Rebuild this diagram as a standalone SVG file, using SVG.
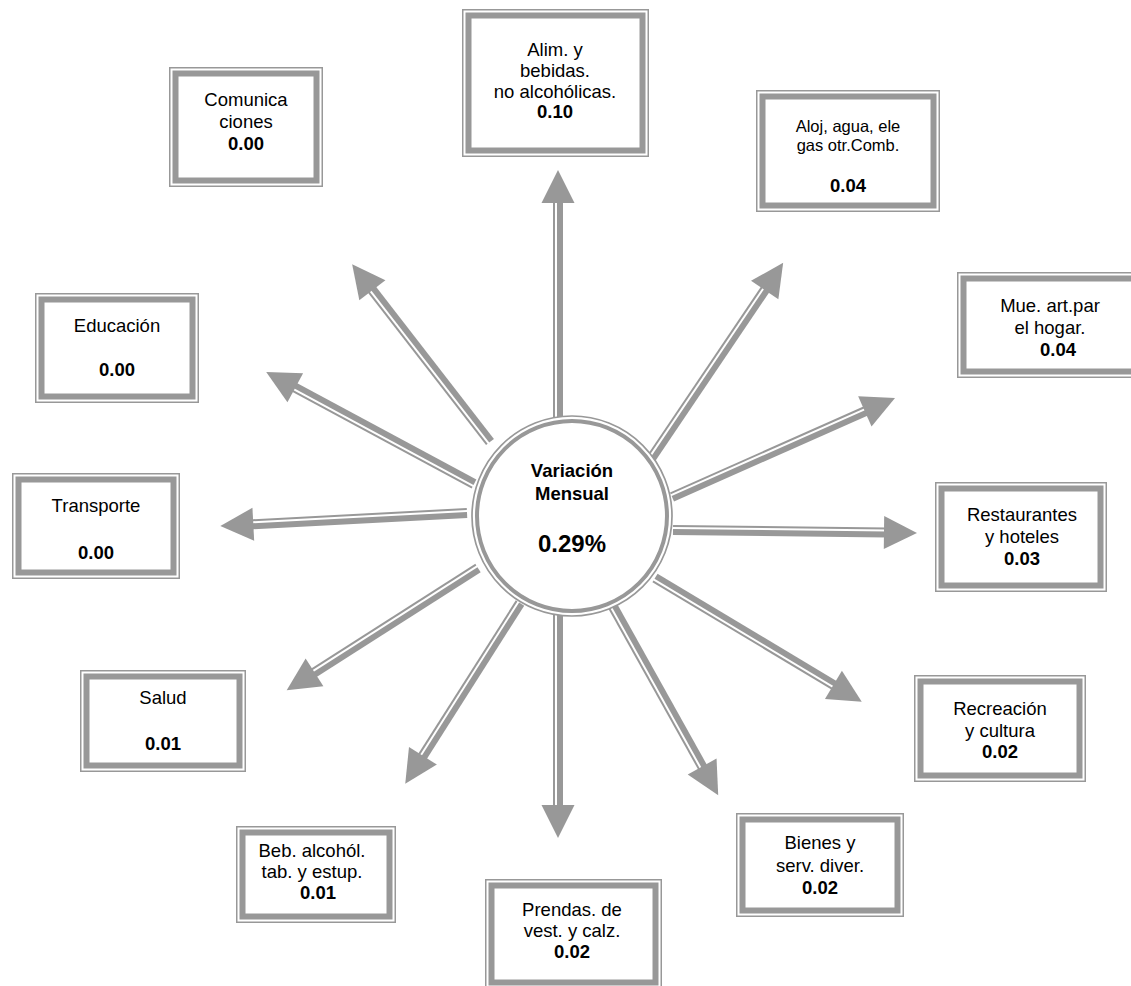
<svg xmlns="http://www.w3.org/2000/svg" width="1131" height="986" viewBox="0 0 1131 986">
<style>
.thin{stroke:#989898;stroke-width:2;fill:none}
.thick{stroke:#989898;stroke-width:6;fill:none}
.head{fill:#989898}
.bo{fill:none;stroke:#989898;stroke-width:1.5}
.bi{fill:#fff;stroke:#989898;stroke-width:6}
text{font-family:"Liberation Sans",Arial,sans-serif;font-size:18.5px;fill:#000;text-anchor:middle}
.b{font-weight:bold}
.s{font-size:16.5px}
</style>
<rect width="1131" height="986" fill="#fff"/>
<g id="connectors">
<g transform="translate(558,418) rotate(-90)"><line class="thin" x1="0" y1="-4" x2="218" y2="-4"/><line class="thick" x1="0" y1="2" x2="218" y2="2"/><polygon class="head" points="248,0 215,-16.5 215,16.5"/></g>
<g transform="translate(490,442) rotate(-127.78)"><line class="thin" x1="0" y1="-4" x2="195" y2="-4"/><line class="thick" x1="0" y1="2" x2="195" y2="2"/><polygon class="head" points="225,0 192,-16.5 192,16.5"/></g>
<g transform="translate(474,484) rotate(-151.7)"><line class="thin" x1="0" y1="-4" x2="206" y2="-4"/><line class="thick" x1="0" y1="2" x2="206" y2="2"/><polygon class="head" points="236,0 203,-16.5 203,16.5"/></g>
<g transform="translate(467,513) rotate(176.99) scale(1,-1)"><line class="thin" x1="0" y1="-4" x2="217" y2="-4"/><line class="thick" x1="0" y1="2" x2="217" y2="2"/><polygon class="head" points="247,0 214,-16.5 214,16.5"/></g>
<g transform="translate(478,568) rotate(147.43) scale(1,-1)"><line class="thin" x1="0" y1="-4" x2="197" y2="-4"/><line class="thick" x1="0" y1="2" x2="197" y2="2"/><polygon class="head" points="227,0 194,-16.5 194,16.5"/></g>
<g transform="translate(520,603) rotate(122.43) scale(1,-1)"><line class="thin" x1="0" y1="-4" x2="184" y2="-4"/><line class="thick" x1="0" y1="2" x2="184" y2="2"/><polygon class="head" points="214,0 181,-16.5 181,16.5"/></g>
<g transform="translate(558,615) rotate(90) scale(1,-1)"><line class="thin" x1="0" y1="-4" x2="193" y2="-4"/><line class="thick" x1="0" y1="2" x2="193" y2="2"/><polygon class="head" points="223,0 190,-16.5 190,16.5"/></g>
<g transform="translate(612,605) rotate(60.84) scale(1,-1)"><line class="thin" x1="0" y1="-4" x2="188" y2="-4"/><line class="thick" x1="0" y1="2" x2="188" y2="2"/><polygon class="head" points="218,0 185,-16.5 185,16.5"/></g>
<g transform="translate(655,578) rotate(30.92) scale(1,-1)"><line class="thin" x1="0" y1="-4" x2="211" y2="-4"/><line class="thick" x1="0" y1="2" x2="211" y2="2"/><polygon class="head" points="241,0 208,-16.5 208,16.5"/></g>
<g transform="translate(673,530) rotate(0.7)"><line class="thin" x1="0" y1="-4" x2="214" y2="-4"/><line class="thick" x1="0" y1="2" x2="214" y2="2"/><polygon class="head" points="244,0 211,-16.5 211,16.5"/></g>
<g transform="translate(672,497) rotate(-23.94)"><line class="thin" x1="0" y1="-4" x2="214" y2="-4"/><line class="thick" x1="0" y1="2" x2="214" y2="2"/><polygon class="head" points="244,0 211,-16.5 211,16.5"/></g>
<g transform="translate(650,460) rotate(-55.98)"><line class="thin" x1="0" y1="-4" x2="208" y2="-4"/><line class="thick" x1="0" y1="2" x2="208" y2="2"/><polygon class="head" points="238,0 205,-16.5 205,16.5"/></g>
</g>
<g id="center">
<circle cx="572" cy="516" r="100" fill="#fff" stroke="#989898" stroke-width="1.7"/>
<circle cx="572" cy="516" r="95" fill="#fff" stroke="#989898" stroke-width="4"/>
<text class="b" x="572" y="477">Variación</text>
<text class="b" x="572" y="500">Mensual</text>
<text class="b" x="572" y="552" style="font-size:24px">0.29%</text>
</g>
<g id="alim">
<rect class="bo" x="462.75" y="9.75" width="185.5" height="146.5"/>
<rect class="bi" x="468.5" y="15.5" width="174" height="135"/>
<text x="555" y="56">Alim. y</text><text x="555" y="77">bebidas.</text><text x="555" y="98">no alcohólicas.</text><text class="b" x="555" y="118">0.10</text>
</g>
<g id="comunicaciones">
<rect class="bo" x="169.75" y="67.75" width="152.5" height="118.5"/>
<rect class="bi" x="175.5" y="73.5" width="141" height="107"/>
<text x="246" y="106">Comunica</text><text x="246" y="128">ciones</text><text class="b" x="246" y="150">0.00</text>
</g>
<g id="aloj">
<rect class="bo" x="756.75" y="90.75" width="182.5" height="120.5"/>
<rect class="bi" x="762.5" y="96.5" width="171" height="109"/>
<text class="s" x="848" y="132">Aloj, agua, ele</text><text class="s" x="848" y="151">gas otr.Comb.</text><text class="b" x="848" y="192">0.04</text>
</g>
<g id="mue">
<rect class="bo" x="957.75" y="272.75" width="184.5" height="104.5"/>
<rect class="bi" x="963.5" y="278.5" width="173" height="93"/>
<text x="1050" y="312">Mue. art.par</text><text x="1050" y="334">el hogar.</text><text class="b" x="1058" y="356">0.04</text>
</g>
<g id="educacion">
<rect class="bo" x="35.75" y="293.75" width="162.5" height="108.5"/>
<rect class="bi" x="41.5" y="299.5" width="151" height="97"/>
<text x="117" y="332">Educación</text><text class="b" x="117" y="376">0.00</text>
</g>
<g id="transporte">
<rect class="bo" x="12.75" y="473.75" width="166.5" height="104.5"/>
<rect class="bi" x="18.5" y="479.5" width="155" height="93"/>
<text x="96" y="512">Transporte</text><text class="b" x="96" y="559">0.00</text>
</g>
<g id="salud">
<rect class="bo" x="80.75" y="670.75" width="164.5" height="100.5"/>
<rect class="bi" x="86.5" y="676.5" width="153" height="89"/>
<text x="163" y="704">Salud</text><text class="b" x="163" y="750">0.01</text>
</g>
<g id="beb">
<rect class="bo" x="236.75" y="826.75" width="158.5" height="95.5"/>
<rect class="bi" x="242.5" y="832.5" width="147" height="84"/>
<text x="312" y="857">Beb. alcohól.</text><text x="312" y="878">tab. y estup.</text><text class="b" x="318" y="899">0.01</text>
</g>
<g id="prendas">
<rect class="bo" x="485.75" y="879.75" width="175.5" height="108.5"/>
<rect class="bi" x="491.5" y="885.5" width="164" height="97"/>
<text x="572" y="916">Prendas. de</text><text x="572" y="937">vest. y calz.</text><text class="b" x="572" y="958">0.02</text>
</g>
<g id="bienes">
<rect class="bo" x="736.75" y="813.75" width="166.5" height="102.5"/>
<rect class="bi" x="742.5" y="819.5" width="155" height="91"/>
<text x="820" y="849">Bienes y</text><text x="820" y="872">serv. diver.</text><text class="b" x="820" y="894">0.02</text>
</g>
<g id="recreacion">
<rect class="bo" x="914.75" y="675.75" width="170.5" height="105.5"/>
<rect class="bi" x="920.5" y="681.5" width="159" height="94"/>
<text x="1000" y="715">Recreación</text><text x="1000" y="737">y cultura</text><text class="b" x="1000" y="758">0.02</text>
</g>
<g id="restaurantes">
<rect class="bo" x="935.75" y="482.75" width="170.5" height="108.5"/>
<rect class="bi" x="941.5" y="488.5" width="159" height="97"/>
<text x="1022" y="521">Restaurantes</text><text x="1022" y="543">y hoteles</text><text class="b" x="1022" y="565">0.03</text>
</g>
</svg>
